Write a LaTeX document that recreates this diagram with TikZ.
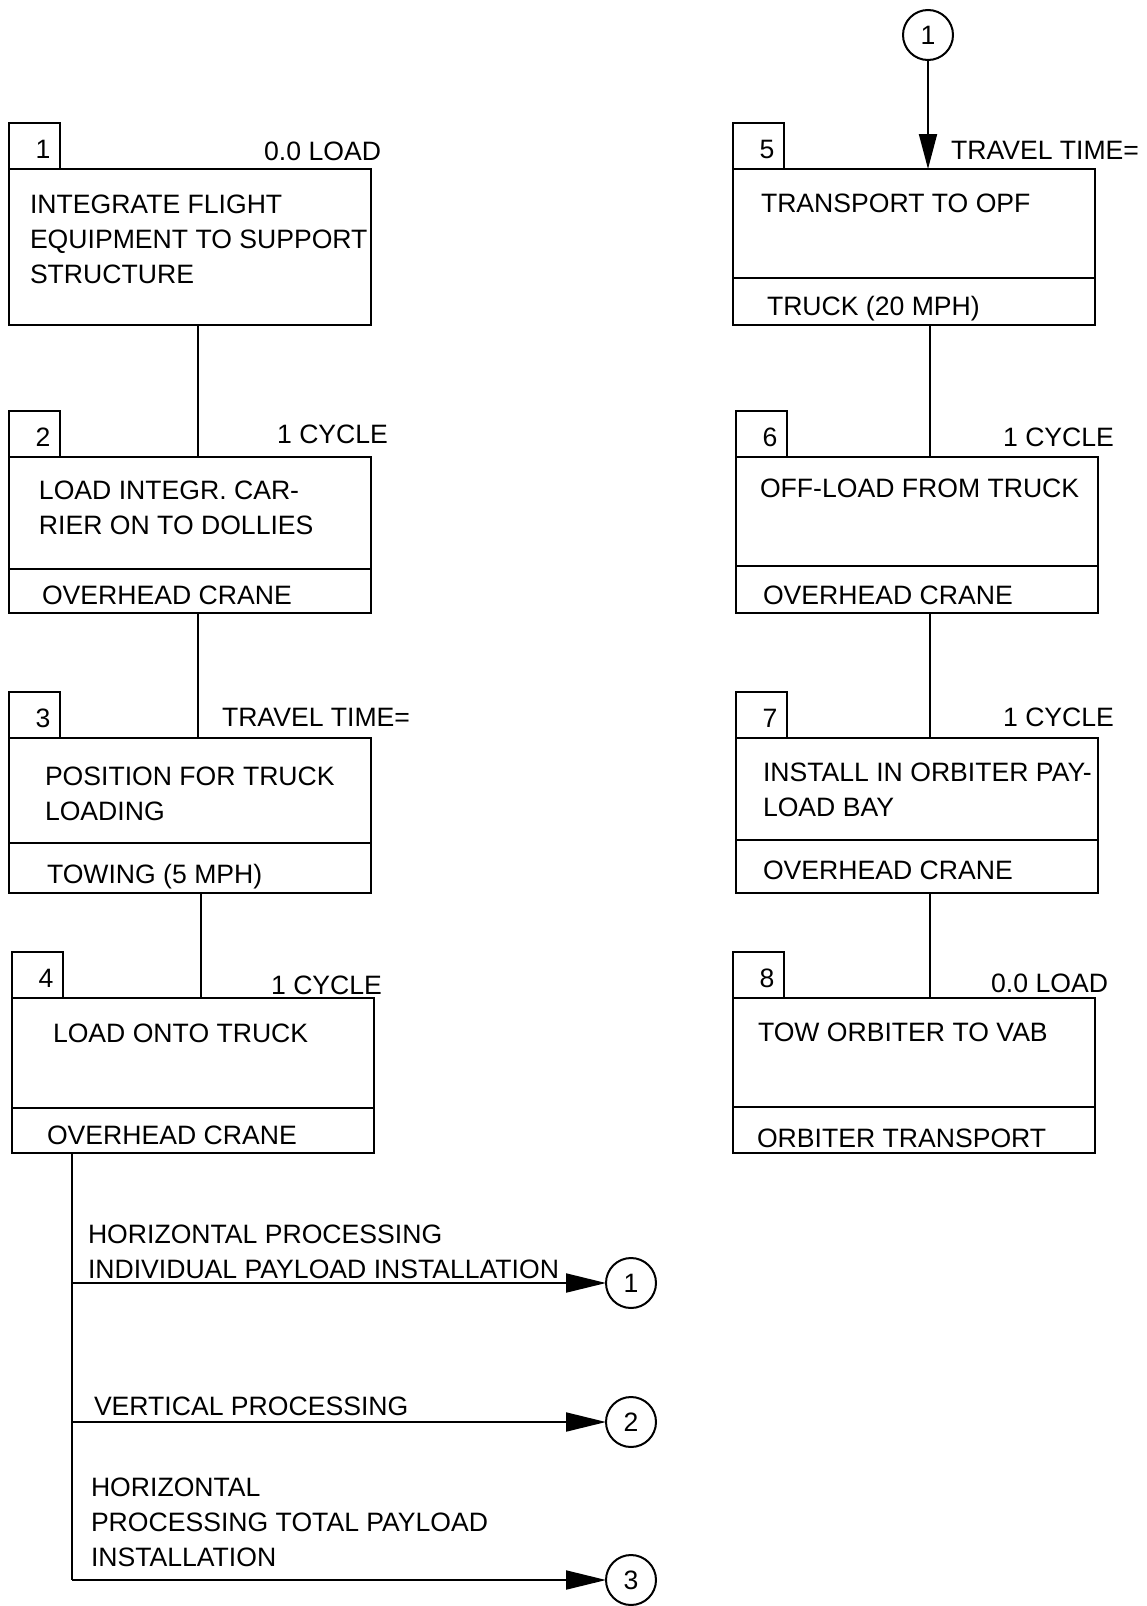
\documentclass[tikz,border=0pt]{standalone}
\usepackage{fontspec}
\setmainfont{Liberation Sans}
\usepackage{tikz}
\usetikzlibrary{positioning,arrows.meta}

\begin{document}
\begin{tikzpicture}[x=0.5pt, y=-0.5pt, line width=1pt,
        every node/.style={font=\fontsize{13.3}{17.5}\selectfont, inner sep=0pt, outer sep=0pt},
        task/.style={draw, rectangle, minimum width=181pt, anchor=north west},
        res/.style={draw, rectangle, minimum width=181pt},
        tab/.style={draw, rectangle, minimum width=25.5pt, minimum height=23pt,
            text width=16pt, align=right, text height=12pt, text depth=0pt},
        txt/.style={anchor=north west, align=left},
        side/.style={anchor=base east},
        conn/.style={circle, draw, minimum size=25pt},
        tip/.style={-{Triangle[length=17.5pt, width=9pt]}},
        longtip/.style={-{Triangle[length=20pt, width=9.5pt]}}]
        \useasboundingbox (0,0) rectangle (1146,1606);
        \coordinate (xl) at (198,0);
        \coordinate (xm) at (201,0);
        \coordinate (xr) at (930,0);

        % left column
        \node[task, minimum height=78pt] (b1) at (9,169) {};
        \node[tab, above right=0pt and 0pt of b1.north west] (n1) {1};
        \node[txt] (d1) at (30,195) {INTEGRATE FLIGHT\\EQUIPMENT TO SUPPORT\\STRUCTURE};
        \node[side] (s1) at (381,160) {0.0 LOAD};

        \node[task, minimum height=56pt] (b2) at (9,457) {};
        \node[res, minimum height=22pt, below=0pt of b2] (r2) {};
        \node[tab, above right=0pt and 0pt of b2.north west] (n2) {2};
        \node[txt] (d2) at (39,481) {LOAD INTEGR. CAR-\\RIER ON TO DOLLIES};
        \node[anchor=base west] (e2) at (42,604) {OVERHEAD CRANE};
        \node[side] (s2) at (388,443) {1 CYCLE};

        \node[task, minimum height=52.5pt] (b3) at (9,738) {};
        \node[res, minimum height=25pt, below=0pt of b3] (r3) {};
        \node[tab, above right=0pt and 0pt of b3.north west] (n3) {3};
        \node[txt] (d3) at (45,767) {POSITION FOR TRUCK\\LOADING};
        \node[anchor=base west] (e3) at (47,883) {TOWING (5 MPH)};
        \node[side] (s3) at (410,726) {TRAVEL TIME=};

        \node[task, minimum height=55pt] (b4) at (12,998) {};
        \node[res, minimum height=22.5pt, below=0pt of b4] (r4) {};
        \node[tab, above right=0pt and 0pt of b4.north west] (n4) {4};
        \node[txt] (d4) at (53,1024) {LOAD ONTO TRUCK};
        \node[anchor=base west] (e4) at (47,1144) {OVERHEAD CRANE};
        \node[side] (s4) at (382,994) {1 CYCLE};

        % right column
        \node[conn] (c0) at (928,35) {1};

        \node[task, minimum height=54.5pt] (b5) at (733,169) {};
        \node[res, minimum height=23.5pt, below=0pt of b5] (r5) {};
        \node[tab, above right=0pt and 0pt of b5.north west] (n5) {5};
        \node[txt] (d5) at (761,194) {TRANSPORT TO OPF};
        \node[anchor=base west] (e5) at (767,315) {TRUCK (20 MPH)};
        \node[side] (s5) at (1139,159) {TRAVEL TIME=};

        \node[task, minimum height=54.5pt] (b6) at (736,457) {};
        \node[res, minimum height=23.5pt, below=0pt of b6] (r6) {};
        \node[tab, above right=0pt and 0pt of b6.north west] (n6) {6};
        \node[txt] (d6) at (760,479) {OFF-LOAD FROM TRUCK};
        \node[anchor=base west] (e6) at (763,604) {OVERHEAD CRANE};
        \node[side] (s6) at (1114,446) {1 CYCLE};

        \node[task, minimum height=51pt] (b7) at (736,738) {};
        \node[res, minimum height=26.5pt, below=0pt of b7] (r7) {};
        \node[tab, above right=0pt and 0pt of b7.north west] (n7) {7};
        \node[txt] (d7) at (763,763) {INSTALL IN ORBITER PAY-\\LOAD BAY};
        \node[anchor=base west] (e7) at (763,879) {OVERHEAD CRANE};
        \node[side] (s7) at (1114,726) {1 CYCLE};

        \node[task, minimum height=54.5pt] (b8) at (733,998) {};
        \node[res, minimum height=23pt, below=0pt of b8] (r8) {};
        \node[tab, above right=0pt and 0pt of b8.north west] (n8) {8};
        \node[txt] (d8) at (758,1023) {TOW ORBITER TO VAB};
        \node[anchor=base west] (e8) at (757,1147) {ORBITER TRANSPORT};
        \node[side] (s8) at (1108,992) {0.0 LOAD};

        % branches
        \coordinate (j1) at (72,1283);
        \coordinate (j2) at (72,1422);
        \coordinate (j3) at (72,1580);
        \node[conn] (o1) at (631,1283) {1};
        \node[conn] (o2) at (631,1422) {2};
        \node[conn] (o3) at (631,1580) {3};
        \node[txt] (h1) at (88,1225) {HORIZONTAL PROCESSING\\INDIVIDUAL PAYLOAD INSTALLATION};
        \node[anchor=base west] (h2) at (94,1415) {VERTICAL PROCESSING};
        \node[txt] (h3) at (91,1478) {HORIZONTAL\\PROCESSING TOTAL PAYLOAD\\INSTALLATION};

        % connectors
        \draw (b1.south -| xl) -- (b2.north -| xl);
        \draw (r2.south -| xl) -- (b3.north -| xl);
        \draw (r3.south -| xm) -- (b4.north -| xm);
        \draw[tip] (c0) -- (b5.north -| c0);
        \draw (r5.south -| xr) -- (b6.north -| xr);
        \draw (r6.south -| xr) -- (b7.north -| xr);
        \draw (r7.south -| xr) -- (b8.north -| xr);
        \draw (r4.south -| j3) -- (j3);
        \draw[longtip] (j1) -- (o1);
        \draw[longtip] (j2) -- (o2);
        \draw[longtip] (j3) -- (o3);
\end{tikzpicture}
\end{document}
